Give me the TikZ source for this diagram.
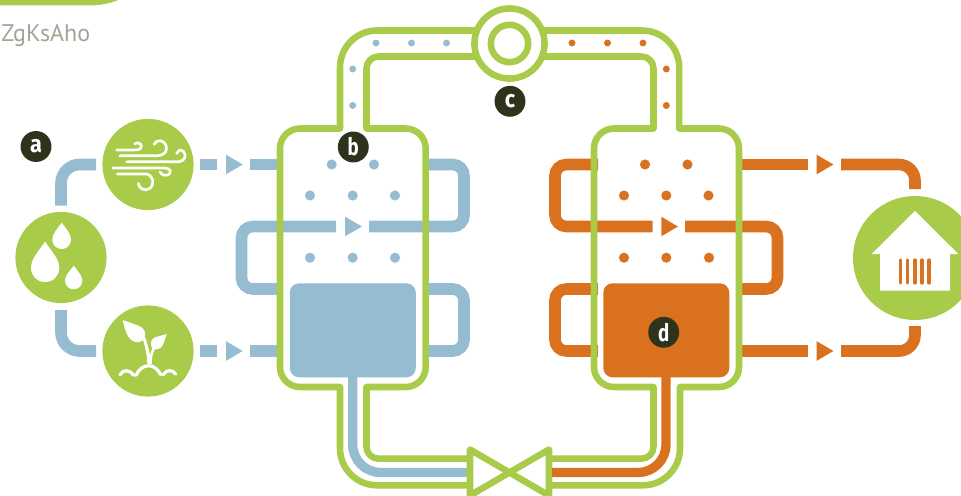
\documentclass[tikz,border=0pt]{standalone}
\usepackage{fontspec}
\usepackage{graphicx}
\setmainfont{PT Sans}
\newfontfamily\badgefont{Fira Sans}[UprightFont=* Bold]
\definecolor{gr}{HTML}{A9CB4A}
\definecolor{bl}{HTML}{95BCD1}
\definecolor{orng}{HTML}{DA711E}
\definecolor{dk}{HTML}{2E331B}
\definecolor{gy}{HTML}{A4A396}
\tikzset{
  iconcircle/.style={circle,fill=gr,minimum size=68.4pt,inner sep=0pt},
  badge/.style={circle,fill=dk,minimum size=23.2pt,inner sep=0pt,text=white,font=\badgefont\fontsize{18}{18}\selectfont},
  pipeb/.style={draw=bl,line width=8.7pt},
  pipeo/.style={draw=orng,line width=8.7pt},
  wall/.style={draw=gr,line width=4.9pt,line join=round},
  sdot/.style={circle,inner sep=0pt,minimum size=5.2pt},
  ldot/.style={circle,inner sep=0pt,minimum size=7.6pt},
  iconline/.style={draw=white,line width=2pt,line cap=round},
}
\begin{document}
\begin{tikzpicture}[x=0.75pt,y=-0.75pt]
\useasboundingbox (0,0) rectangle (961,496);
\clip (0,0) rectangle (961,496);

% top-left tab and caption
\fill[gr] (0,-2) -- (123,-2) .. controls (112,3) and (102,5.4) .. (90,5.4) -- (0,5.4) -- cycle;
\node[anchor=base west,inner sep=0pt,text=gy,font=\fontsize{18}{20}\selectfont] (cap) at (1,41.7) {ZgKsAho};

% icon circles
\node[iconcircle] (wind) at (148,164.5) {};
\node[iconcircle] (water) at (61,257.5) {};
\node[iconcircle] (plant) at (148,351) {};
\node[circle,fill=gr,minimum size=93pt,inner sep=0pt] (house) at (915,258) {};

% tanks' liquid blocks
\node[draw=none,fill=bl,rounded corners=7pt,minimum width=94.5pt,minimum height=70.5pt,inner sep=0pt] (bblock) at (352.8,330.3) {};
\node[draw=none,fill=orng,rounded corners=7pt,minimum width=94.5pt,minimum height=70.5pt,inner sep=0pt] (oblock) at (666.3,330.3) {};

% named ends
\coordinate (wa1) at (61,205.7); \coordinate (wi1) at (96,164.5);
\coordinate (wa2) at (61,310);   \coordinate (pl1) at (96,351);
\coordinate (wi2) at (200,164.5); \coordinate (wi3) at (217,164.5);
\coordinate (pl2) at (200,351); \coordinate (pl3) at (217,351);
\coordinate (bt1) at (250,164.5); \coordinate (bt2) at (282,164.5);
\coordinate (bp1) at (250,351); \coordinate (bp2) at (282,351);
\coordinate (br1) at (424,164.5); \coordinate (br2) at (369,226.5);
\coordinate (bl1) at (336,226.5); \coordinate (bl2) at (282,289);
\coordinate (br3) at (424,289); \coordinate (br4) at (424,351);
\coordinate (ol1) at (598,164.5); \coordinate (ol2) at (652.7,226.5);
\coordinate (or1) at (685,226.5); \coordinate (or2) at (738,289);
\coordinate (ol3) at (598,289); \coordinate (ol4) at (598,351);
\coordinate (ot1) at (738,164.5); \coordinate (ot2) at (808,164.5);
\coordinate (ob1) at (738,351); \coordinate (ob2) at (808,351);
\coordinate (ot3) at (841,164.5); \coordinate (ho1) at (915,189);
\coordinate (ob3) at (841,351); \coordinate (ho2) at (915,326);

% blue circuit
\draw[pipeb,rounded corners=14pt] (wa1) -- (61,164.5) -- (wi1);
\draw[pipeb,rounded corners=14pt] (wa2) -- (61,351) -- (pl1);
\draw[pipeb] (wi2) -- (wi3);
\draw[pipeb] (pl2) -- (pl3);
\draw[pipeb] (bt1) -- (bt2);
\draw[pipeb] (bp1) -- (bp2);
\draw[pipeb,rounded corners=8.5pt] (br1) -- (464,164.5) -- (464,226.5) -- (br2);
\draw[pipeb,rounded corners=8.5pt] (bl1) -- (241.5,226.5) -- (241.5,289) -- (bl2);
\draw[pipeb,rounded corners=8.5pt] (br3) -- (464,289) -- (464,351) -- (br4);
\fill[bl] (226,154.7) -- (242.7,164.5) -- (226,174.3) -- cycle;
\fill[bl] (226,341.2) -- (242.7,351) -- (226,360.8) -- cycle;
\fill[bl] (345,216.7) -- (362,226.5) -- (345,236.3) -- cycle;

% orange circuit
\draw[pipeo,rounded corners=8.5pt] (ol1) -- (555,164.5) -- (555,226.5) -- (ol2);
\draw[pipeo,rounded corners=8.5pt] (or1) -- (777.5,226.5) -- (777.5,289) -- (or2);
\draw[pipeo,rounded corners=8.5pt] (ol3) -- (555,289) -- (555,351) -- (ol4);
\draw[pipeo] (ot1) -- (ot2);
\draw[pipeo] (ob1) -- (ob2);
\draw[pipeo,rounded corners=12pt] (ot3) -- (915,164.5) -- (ho1);
\draw[pipeo,rounded corners=12pt] (ob3) -- (915,351) -- (ho2);
\fill[orng] (661.3,216.7) -- (678,226.5) -- (661.3,236.3) -- cycle;
\fill[orng] (816.7,154.7) -- (833.4,164.5) -- (816.7,174.3) -- cycle;
\fill[orng] (816.7,341.2) -- (833.4,351) -- (816.7,360.8) -- cycle;

% liquid lines to the valve
\draw[draw=bl,line width=7pt,rounded corners=21pt] (352.7,370) -- (352.7,472.5) -- (470,472.5);
\draw[draw=orng,line width=7pt,rounded corners=21pt] (666,370) -- (666,472.5) -- (550,472.5);

% walls
\draw[wall] (470,485.3) [rounded corners=27.75pt] -- (340,485.3) [sharp corners] -- (340,387) [rounded corners=15pt] -- (280,387) -- (280,128.5) [sharp corners] -- (340,128.5) [rounded corners=27.75pt] -- (340,30.5) -- (480,30.5);
\draw[wall] (470,458.7) [rounded corners=9pt] -- (366.5,458.7) [sharp corners] -- (366.5,387) [rounded corners=15pt] -- (425.7,387) -- (425.7,128.5) [sharp corners] -- (366.5,128.5) [rounded corners=9pt] -- (366.5,56.5) -- (480,56.5);
\draw[wall] (549,485.3) [rounded corners=27.75pt] -- (680,485.3) [sharp corners] -- (680,387) [rounded corners=15pt] -- (739,387) -- (739,128.5) [sharp corners] -- (679.2,128.5) [rounded corners=27.75pt] -- (679.2,30.5) -- (540,30.5);
\draw[wall] (549,458.7) [rounded corners=9pt] -- (653.5,458.7) [sharp corners] -- (653.5,387) [rounded corners=15pt] -- (594,387) -- (594,128.5) [sharp corners] -- (653.5,128.5) [rounded corners=9pt] -- (653.5,56.5) -- (540,56.5);

% valve
\draw[wall,fill=white] (470,449.5) -- (549,495.5) -- (549,449.5) -- (470,495.5) -- cycle;
\draw[draw=orng,line width=7pt] (552,472.5) -- (570,472.5);

% compressor
\node[circle,draw=gr,fill=white,line width=4.9pt,minimum size=52.6pt,inner sep=0pt] (comp) at (509.5,43.5) {};
\node[circle,draw=gr,line width=4.9pt,minimum size=28pt,inner sep=0pt] (compin) at (509.5,43.5) {};

% dots
\foreach \p [count=\i] in {(376,43),(411.5,43),(446.5,43),(352.7,69),(352.7,105.5)}
  \node[sdot,fill=bl] (bs\i) at \p {};
\foreach \p [count=\i] in {(572,43),(607.5,43),(643,43),(666.3,69),(666.3,105.5)}
  \node[sdot,fill=orng] (os\i) at \p {};
\foreach \p [count=\i] in {(331.7,164.5),(374,164.5),(310,195.5),(352.7,195.5),(395,195.5),(310,257.7),(352.7,257.7),(395,257.7)}
  \node[ldot,fill=bl] (bd\i) at \p {};
\foreach \p [count=\i] in {(645,164.5),(687.5,164.5),(624,195.5),(666.3,195.5),(708.5,195.5),(624,257.7),(666.3,257.7),(709,257.7)}
  \node[ldot,fill=orng] (od\i) at \p {};

% badges
\node[badge] (ba) at (36,146.5) {\scalebox{.9}[1]{a}};
\node[badge] (bb) at (353.3,147) {\scalebox{.78}[1]{b}};
\node[badge] (bc) at (510,101.3) {\scalebox{.9}[1]{c}};
\node[badge] (bd) at (663.7,332.3) {\scalebox{.78}[1]{d}};

% water drops
\fill[white] (45,241.7) .. controls (38,252) and (31,259) .. (31,268) .. controls (31,276) and (37,282) .. (45,282) .. controls (53,282) and (59.3,276) .. (59.3,268) .. controls (59.3,259) and (52,252) .. (45,241.7) -- cycle;
\fill[white] (61.7,222.7) .. controls (57,229) and (52.3,234) .. (52.3,239.7) .. controls (52.3,245) and (56.5,249) .. (61.7,249) .. controls (67,249) and (71,245) .. (71,239.7) .. controls (71,234) and (66.5,229) .. (61.7,222.7) -- cycle;
\fill[white] (73.7,265.7) .. controls (69.5,271.5) and (65,275.5) .. (65,280.7) .. controls (65,285.5) and (69,289.3) .. (73.7,289.3) .. controls (78.5,289.3) and (82.3,285.5) .. (82.3,280.7) .. controls (82.3,275.5) and (78,271.5) .. (73.7,265.7) -- cycle;

% wind
\begin{scope}[shift={(100,120)},x=0.25pt,y=-0.25pt]
\draw[iconline] (50,90) -- (108,90) .. controls (122,90) and (127,80) .. (122,73) .. controls (118,68) and (110,67) .. (104,71);
\draw[iconline] (60,107) -- (175,107) .. controls (195,105) and (203,92) .. (198,76) .. controls (193,60) and (170,56) .. (162,73);
\draw[iconline] (80,125) -- (238,125) .. controls (256,122) and (260,105) .. (250,94) .. controls (242,87) and (232,92) .. (230,100);
\draw[iconline] (38,144) -- (195,144) .. controls (212,145) and (216,158) .. (205,164) .. controls (195,168) and (185,165) .. (180,156);
\draw[iconline] (52,162) -- (140,162) .. controls (160,168) and (165,190) .. (150,205) .. controls (135,216) and (115,205) .. (115,190);
\end{scope}

% plant
\begin{scope}[shift={(100,300)},x=0.25pt,y=-0.25pt]
\fill[white] (68,60) -- (118,78) .. controls (135,85) and (142,105) .. (130,120) .. controls (118,132) and (95,128) .. (85,110) .. controls (76,95) and (72,78) .. (68,60) -- cycle;
\fill[white] (200,102) -- (165,112) .. controls (150,118) and (148,138) .. (160,146) .. controls (172,152) and (185,145) .. (190,132) .. controls (194,122) and (197,112) .. (200,102) -- cycle;
\fill[white] (128,115) .. controls (135,140) and (142,165) .. (142,192) -- (156,192) .. controls (154,175) and (158,158) .. (168,142) -- (160,138) .. controls (155,148) and (152,158) .. (150,165) .. controls (147,150) and (142,130) .. (136,112) -- cycle;
\draw[iconline,line width=2.4pt] (60,224) .. controls (70,208) and (88,208) .. (101,226);
\draw[iconline,line width=2.4pt] (108,226) .. controls (125,188) and (165,188) .. (182,224);
\draw[iconline,line width=2.4pt] (190,224) .. controls (200,208) and (216,208) .. (227,222);
\end{scope}

% house
\fill[white] (915,211) -- (958.3,254) -- (950,254) -- (950,290.7) -- (880,290.7) -- (880,254) -- (871.7,254) -- cycle;
\foreach \x in {900.3,907.7,915,922,929}
  \draw[draw=orng,line width=2.5pt,line cap=round] (\x,260) -- (\x,283);
\end{tikzpicture}
\end{document}
